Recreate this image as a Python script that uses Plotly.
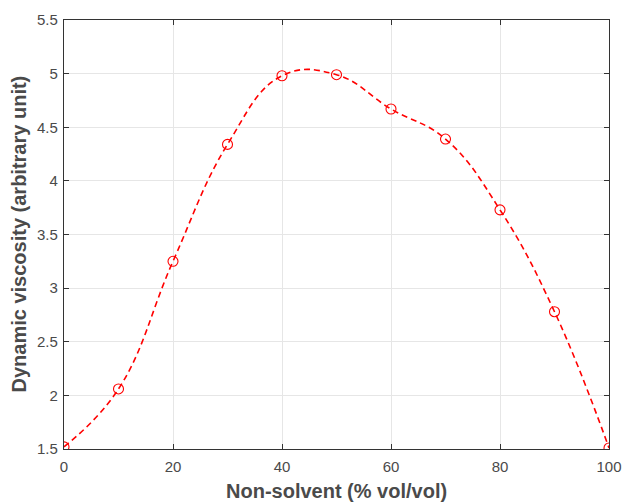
import plotly.graph_objects as go

# Non-solvent fraction (% vol/vol) and measured dynamic viscosity
non_solvent = [0, 10, 20, 30, 40, 50, 60, 70, 80, 90, 100]
viscosity = [1.52, 2.06, 3.25, 4.34, 4.98, 4.99, 4.67, 4.39, 3.73, 2.78, 1.51]

x_ticks = [0, 20, 40, 60, 80, 100]
y_ticks = [1.5, 2, 2.5, 3, 3.5, 4, 4.5, 5, 5.5]

x_title = "Non-solvent (% vol/vol)"
y_title = "Dynamic viscosity (arbitrary unit)"

axis_color = "#333333"
label_color = "#4a4a4a"
font_family = "Liberation Sans, Arial, sans-serif"

fig = go.Figure()

# smooth dashed curve through the measurements
fig.add_trace(go.Scatter(
    x=non_solvent, y=viscosity,
    mode="lines",
    line=dict(color="#ff0000", width=1.6, dash="6px,4px", shape="spline", smoothing=1.2),
    hoverinfo="skip",
    showlegend=False,
))

# open circle markers at each measurement
fig.add_trace(go.Scatter(
    x=non_solvent, y=viscosity,
    mode="markers",
    marker=dict(symbol="circle-open", size=10, color="#ff0000", line=dict(width=1.1)),
    showlegend=False,
))

common_axis = dict(
    automargin=False,
    showline=True, linecolor=axis_color, linewidth=1.2, mirror="ticks",
    ticks="inside", ticklen=5, tickwidth=1.2, tickcolor=axis_color,
    showgrid=True, gridcolor="#e6e6e6", gridwidth=1,
    zeroline=False,
    tickfont=dict(family=font_family, size=15, color=label_color),
)

fig.update_xaxes(
    range=[0, 100], tickvals=x_ticks, ticktext=[str(v) for v in x_ticks],
    ticklabelstandoff=4,
    **common_axis,
)
fig.update_yaxes(
    range=[1.5, 5.5], tickvals=y_ticks, ticktext=[f"{v:g}" for v in y_ticks],
    ticklabelstandoff=2,
    **common_axis,
)

title_font = dict(family=font_family, size=20, color=label_color)

# axis titles placed relative to the plotting area
fig.add_annotation(
    text=f"<b>{x_title}</b>", xref="paper", yref="paper", x=0.5, y=0,
    xanchor="center", yanchor="middle", yshift=-42, showarrow=False, font=title_font,
)
fig.add_annotation(
    text=f"<b>{y_title}</b>", xref="paper", yref="paper", x=0, y=0.5,
    xanchor="center", yanchor="middle", xshift=-46, textangle=-90,
    showarrow=False, font=title_font,
)

fig.update_layout(
    width=622, height=503,
    margin=dict(l=64, r=13, t=20, b=54),
    paper_bgcolor="white", plot_bgcolor="white",
)

fig.write_html("out.html")
